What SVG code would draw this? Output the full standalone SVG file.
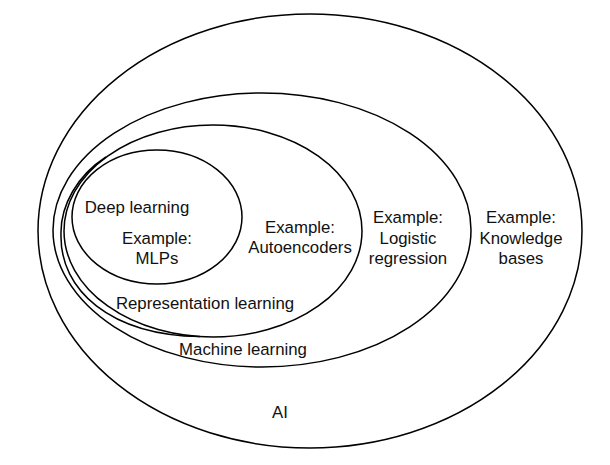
<svg xmlns="http://www.w3.org/2000/svg" width="610" height="465" viewBox="0 0 610 465">
<style>
.set{fill:none;stroke:#000;stroke-width:1.5}
text{font-family:"Liberation Sans",Arial,sans-serif;font-size:16.8px;fill:#111;text-anchor:middle}
</style>
<rect width="610" height="465" fill="#fff"/>
<g id="ai">
<ellipse class="set" cx="310" cy="231" rx="272" ry="217"/>
<text x="280" y="418">AI</text>
<text x="521" y="223">Example:</text>
<text x="521" y="244">Knowledge</text>
<text x="521" y="264">bases</text>
</g>
<g id="ml">
<ellipse class="set" cx="262" cy="230" rx="209" ry="137"/>
<text x="243" y="355">Machine learning</text>
<text x="408" y="223">Example:</text>
<text x="408" y="244">Logistic</text>
<text x="408" y="264">regression</text>
</g>
<g id="rep">
<ellipse class="set" cx="213" cy="231" rx="149" ry="106"/>
<path class="set" d="M106,157 C78,175 60,205 61,235 C60,290 110,335 200,336.6"/>
<text x="205" y="309">Representation learning</text>
<text x="300" y="233">Example:</text>
<text x="300" y="253">Autoencoders</text>
</g>
<g id="deep">
<ellipse class="set" cx="157" cy="217" rx="85" ry="67"/>
<text x="137" y="213">Deep learning</text>
<text x="157" y="244">Example:</text>
<text x="157" y="264">MLPs</text>
</g>
<g id="connectors"/>
</svg>
